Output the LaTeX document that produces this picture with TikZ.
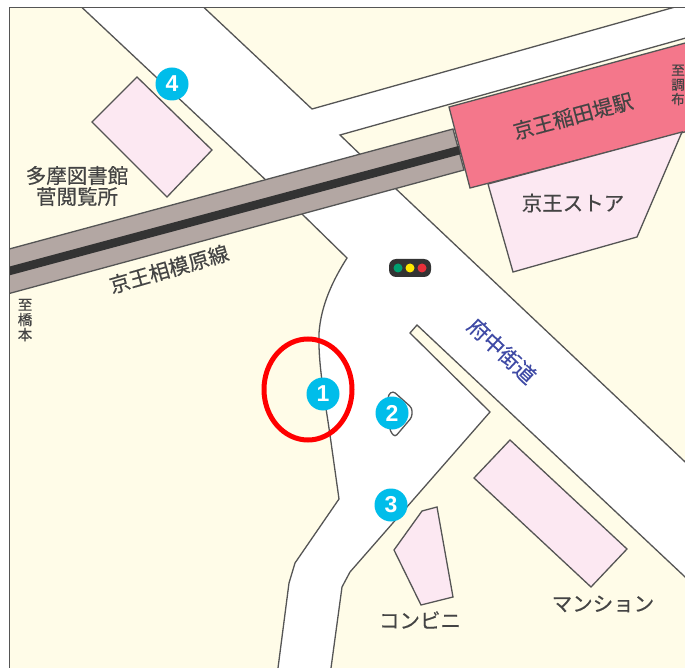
\documentclass[tikz,border=0pt]{standalone}
\usepackage{fontspec}
\setmainfont[FakeBold=0.35]{Noto Sans CJK JP}
\newfontfamily\numfont{Liberation Sans}
\definecolor{landc}{HTML}{FFFCE8}
\definecolor{bldgc}{HTML}{FCE8F2}
\definecolor{stationc}{HTML}{F4778B}
\definecolor{railc}{HTML}{B3A7A3}
\definecolor{trackc}{HTML}{333333}
\definecolor{linec}{HTML}{555555}
\definecolor{textc}{HTML}{444444}
\definecolor{bluec}{HTML}{3F4AA5}
\definecolor{markc}{HTML}{00BDEA}
\definecolor{greenlamp}{HTML}{00A070}
\definecolor{yellowlamp}{HTML}{FFE800}
\definecolor{redlamp}{HTML}{E8303A}
\tikzset{
  edge/.style={draw=linec,line width=1.3pt,line join=miter},
  road/.style={edge,fill=white},
  bldg/.style={edge,fill=bldgc},
  label/.style={text=textc,font=\fontsize{20.5}{22}\selectfont,inner sep=0pt,align=center},
  small/.style={text=textc,font=\fontsize{14.5}{15}\selectfont,inner sep=0pt,align=center},
  stop/.style={circle,fill=markc,minimum size=33pt,inner sep=0pt,text=white,font=\numfont\bfseries\fontsize{23}{23}\selectfont},
  lamp/.style={circle,minimum size=9pt,inner sep=0pt}
}
\begin{document}
\begin{tikzpicture}[x=1pt,y=-1pt]
\useasboundingbox (0,0) rectangle (685,668);
\fill[white] (0,0) rectangle (685,668);
\begin{scope}
\clip (9.5,7.5) rectangle (685,668);
\fill[landc] (9.5,7.5) rectangle (685,668);
\path[road] (74,0) -- (196,0) -- (312,109) -- (700,0) -- (700,34) -- (340,135) -- (395,188) -- (700,476)
  -- (700,591) -- (417,325) -- (410,333) -- (490,412) -- (350,572) -- (342,587) -- (331,668) -- (330,680)
  -- (277,680) -- (278,668) -- (289,583) -- (295,563) -- (339,499) -- (330,435)
  .. controls (325,400) and (318,365) .. (319,333)
  .. controls (321,305) and (333,280) .. (347,258) -- (302,214) -- cycle;
\path[edge,fill=railc] (0,251.5) -- (453,129) -- (464,170) -- (0,296) -- cycle;
\draw[trackc,line width=8.5pt] (0,273.5) -- (460,150);
\path[edge,fill=stationc] (449,107) -- (700,39) -- (700,128) -- (470,188) -- cycle;
\path[bldg] (488,184) -- (682,132) -- (637,237) -- (513,272) -- cycle;
\path[bldg] (137,77) -- (212,150) -- (167,197) -- (92,122) -- cycle;
\path[bldg] (510,440) -- (627,549) -- (591,587) -- (474,478) -- cycle;
\path[bldg] (422,511) -- (437,507) -- (453,597) -- (421,605) -- (394,550) -- cycle;
\path[edge,fill=white,rounded corners=3pt] (393,391) -- (412,408) -- (412,417) -- (395,437) -- (390,431) -- (388,395) -- cycle;
\end{scope}
\draw[linec,line width=1.3pt] (9.5,668) -- (9.5,7.5) -- (685,7.5);
\node[label] (library) at (77,186) {多摩図書館\\[-1pt]菅閲覧所};
\node[label,rotate=16] (keioline) at (169,269) {京王相模原線};
\node[small] (hashimoto) at (25,320) {至\\橋\\本};
\node[label,rotate=15] (station) at (573,116) {京王稲田堤駅};
\node[small,font=\fontsize{13.5}{14.5}\selectfont] (chofu) at (678,85) {至\\調\\布};
\node[label] (store) at (573,203) {京王ストア};
\node[label,text=bluec,rotate=-43,font=\fontsize{21}{22}\selectfont] (kaido) at (502,351) {府中街道};
\node[label] (conv) at (420,620) {コンビニ};
\node[label] (mansion) at (603,604) {マンション};
\node[fill=trackc,rounded corners=7pt,minimum width=42pt,minimum height=18pt,inner sep=0pt] (signal) at (410,268) {};
\node[lamp,fill=greenlamp] (lampg) at (398,268) {};
\node[lamp,fill=yellowlamp] (lampy) at (410,268) {};
\node[lamp,fill=redlamp] (lampr) at (422,268) {};
\node[stop] (s1) at (323,394) {1};
\node[stop] (s2) at (392,413) {2};
\node[stop] (s3) at (391,505) {3};
\node[stop] (s4) at (172,84) {4};
\draw[red,line width=5pt] (308,389.5) ellipse [x radius=44,y radius=50.5];
\end{tikzpicture}
\end{document}
